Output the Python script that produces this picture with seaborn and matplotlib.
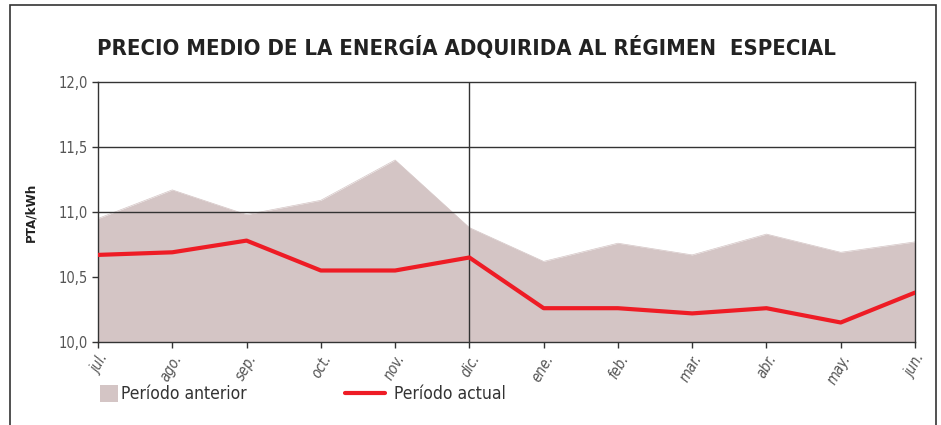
import matplotlib
matplotlib.use("Agg")
import matplotlib.pyplot as plt
import seaborn as sns
import pandas as pd
from matplotlib import font_manager as fm
from matplotlib.patches import Patch, Rectangle
from matplotlib.lines import Line2D

# data
months = ['jul.', 'ago.', 'sep.', 'oct.', 'nov.', 'dic.',
          'ene.', 'feb.', 'mar.', 'abr.', 'may.', 'jun.']
anterior = [10.95, 11.17, 10.98, 11.09, 11.40, 10.88,
            10.62, 10.76, 10.67, 10.83, 10.69, 10.77]
actual = [10.67, 10.69, 10.78, 10.55, 10.55, 10.65,
          10.26, 10.26, 10.22, 10.26, 10.15, 10.38]
y_ticks = [10.0, 10.5, 11.0, 11.5, 12.0]

df = pd.DataFrame({'idx': range(len(months)), 'mes': months,
                   'anterior': anterior, 'actual': actual})

sns.set_theme(style="white")

# look for a narrow face, the original uses a condensed sans
family, stretch = 'Liberation Sans', 'normal'
for f in fm.fontManager.ttflist:
    low = f.fname.lower()
    if 'narrow' in low or 'condensed' in low:
        family, stretch = f.name, f.stretch
        break
plt.rcParams['font.family'] = [family, 'DejaVu Sans']
plt.rcParams['font.stretch'] = stretch

fill_col = '#d4c5c5'
red = '#ee1c25'
grid_col = '#333333'
txt_col = '#555555'

fig = plt.figure(figsize=(9.41, 4.25), dpi=100)
ax = fig.add_axes([98 / 941, 1 - 342 / 425, (915 - 98) / 941, (342 - 82) / 425])

# shaded area for previous period
ax.fill_between(df['idx'], 10.0, df['anterior'], color=fill_col, lw=0, zorder=1)
sns.lineplot(data=df, x='idx', y='anterior', color=fill_col, lw=0.5, ax=ax, zorder=1)
sns.lineplot(data=df, x='idx', y='actual', color=red, lw=3, ax=ax, zorder=3)

for yv in [11.0, 11.5]:
    ax.axhline(yv, color=grid_col, lw=1, zorder=2)
ax.axvline(5, color=grid_col, lw=1, zorder=2)

ax.set_xlim(0, len(months) - 1)
ax.set_ylim(10.0, 12.0)
ax.set_yticks(y_ticks)
ax.set_yticklabels([f"{v:.1f}".replace('.', ',') for v in y_ticks],
                   color=txt_col, fontsize=10.5)
ax.set_xticks(df['idx'])
ax.set_xticklabels(months, rotation=60, ha='right', rotation_mode='anchor',
                   color=txt_col, fontsize=10.5, style='italic')
ax.tick_params(axis='both', length=4, width=1, color=grid_col, direction='out',
               left=True, bottom=True, pad=3)
for s in ax.spines.values():
    s.set_color(grid_col)
    s.set_linewidth(1)
ax.set_xlabel('')
ax.set_ylabel('PTA/kWh', fontsize=9.5, fontweight='bold', color='#222222')
ax.yaxis.set_label_coords((37 - 98) / 817, 0.5)

title = fig.text(97 / 941, 1 - 48 / 425,
                 'PRECIO MEDIO DE LA ENERGÍA ADQUIRIDA AL RÉGIMEN  ESPECIAL',
                 fontsize=20, fontweight='bold', color='#222222', va='center', ha='left')

# two one-entry legends so the swatch and the line get their own lengths
leg_fs = 12.5
leg_y = 1 - 394 / 425
leg1 = fig.legend([Patch(facecolor=fill_col, edgecolor='none')], ['Período anterior'],
                  loc='center left', bbox_to_anchor=(100 / 941, leg_y),
                  frameon=False, fontsize=leg_fs, handlelength=1.05, handleheight=1.1,
                  handletextpad=0.15, borderpad=0, borderaxespad=0,
                  labelcolor='#333333')
leg2 = fig.legend([Line2D([0], [0], color=red, lw=3)], ['Período actual'],
                  loc='center left', bbox_to_anchor=(345 / 941, leg_y),
                  frameon=False, fontsize=leg_fs, handlelength=2.3,
                  handletextpad=0.55, borderpad=0, borderaxespad=0,
                  labelcolor='#333333')

# shrink the title until it spans the same width as in the original
renderer = fig.canvas.get_renderer()
target = 835 - 97
for _ in range(6):
    w = title.get_window_extent(renderer).width
    title.set_fontsize(title.get_fontsize() * target / w)

# outer frame
fig.patches.append(Rectangle((10 / 941, -0.05), (936 - 10) / 941, 1.05 - 5 / 425,
                             transform=fig.transFigure, fill=False,
                             edgecolor='#333333', lw=1.2))

fig.savefig('out.png', dpi=100)
